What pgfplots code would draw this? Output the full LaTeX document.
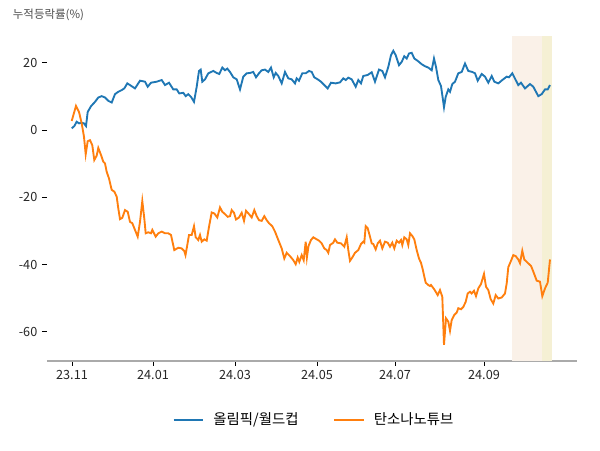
\documentclass[border=0pt]{standalone}
\usepackage{pgfplots}
\pgfplotsset{compat=1.18}
\usepackage{fontspec}
\setmainfont{Noto Sans CJK KR}
\definecolor{cblue}{HTML}{1F77B4}
\definecolor{corange}{HTML}{FF7F0E}
\definecolor{bandA}{RGB}{250,241,232}
\definecolor{bandB}{RGB}{245,240,212}
\begin{document}
\begin{tikzpicture}
\useasboundingbox (0,0) rectangle (450pt,337.5pt);
\begin{axis}[
  at={(35.25pt,66.75pt)}, anchor=south west,
  width=397.5pt, height=243.75pt, scale only axis,
  xmin=47, xmax=577, ymin=-68.7, ymax=28,
  axis x line*=bottom, axis y line*=left,
  x axis line style={draw={rgb,255:red,170;green,170;blue,170}, line width=0.8pt},
  y axis line style={draw=none},
  xtick={72,153,235,317,395,484},
  xticklabels={23.11,24.01,24.03,24.05,24.07,24.09},
  ytick={-60,-40,-20,0,20},
  tick align=outside, major tick length=3.75pt,
  tick style={black, line width=0.6pt},
  tick label style={font=\fontsize{9.5}{11}\selectfont, text=black!85},
  /pgf/number format/assume math mode=true,
  clip=false,
  legend columns=2,
  legend style={at={(0.5045,-0.1815)}, anchor=center, draw=none, fill=none,
    font=\fontsize{10.8}{13}\selectfont, column sep=5pt,
    /tikz/every even column/.append style={column sep=24pt}},
  legend image code/.code={\draw[#1, line width=1.5pt] (0pt,0pt) -- (22pt,0pt);},
  legend cell align=left,
]
\fill[bandA] (axis cs:512,-68.7) rectangle (axis cs:542,28);
\fill[bandB] (axis cs:542,-68.7) rectangle (axis cs:552,28);
\addplot[cblue, line width=1.4pt] coordinates {
(71.7,0.5)(74.3,1.2)(76.7,2.5)(79,2.0)(81.7,2.2)(84,2.0)(86,1.2)(87.7,5.4)(91,7.1)(95,8.4)
(98.3,9.7)(101.7,10.1)(105,9.7)(108.3,8.7)(111.7,8.2)(115,10.7)(118.3,11.4)(121.7,11.9)(124.3,12.4)(127.3,13.9)
(131,13.2)(135,12.4)(140,14.7)(145,14.4)(147.7,12.9)(151,14.1)(156.7,14.4)(161.7,14.9)(165,13.4)(169,14.1)
(173.3,12.1)(176.7,12.1)(179.3,10.9)(183.3,11.1)(185.7,10.1)(188.3,10.7)(191,9.9)(194,8.4)(196.7,12.9)(199,17.6)
(200.7,18.0)(202.3,14.4)(205,15.1)(208.3,16.9)(213.3,17.6)(216.7,17.0)(219.3,16.7)(222.3,18.6)(225,17.8)(227.3,18.3)
(230,17.3)(233.3,15.7)(236.7,15.1)(240,12.1)(243.3,15.9)(246.7,16.9)(250,17.0)(253.3,17.3)(256,15.7)(259,16.9)
(261.7,17.8)(265,18.0)(268.3,17.3)(271,18.6)(273.7,15.7)(275.7,17.0)(278.3,16.1)(281.7,13.9)(285,17.3)(288.3,15.4)
(291.7,15.1)(295,13.9)(296.7,15.4)(299,14.7)(302.3,16.9)(305.7,16.9)(309,17.6)(311.7,17.3)(314.3,15.7)(317.7,15.1)
(321,14.4)(324.3,13.4)(327.7,12.4)(331,14.1)(335.7,13.9)(340,14.2)(343.3,15.4)(345.7,14.9)(348.3,15.6)(351.7,15.1)
(355.7,12.9)(358.3,14.9)(361,13.9)(363.3,16.1)(367.7,16.4)(371.7,17.2)(375,14.4)(379,18.0)(382.3,17.6)(385,15.7)
(388.3,18.8)(391,22.3)(393.3,23.6)(395.7,22.3)(399,19.3)(401.7,20.3)(404.3,22.0)(406.7,21.3)(409,22.8)(411.7,23.0)
(414.3,21.3)(417.7,20.6)(421.7,19.6)(425,19.0)(428.3,18.6)(431.7,17.8)(434,21.3)(436,18.8)(438.3,14.9)(441,13.1)
(442.3,10.4)(444,6.8)(445.7,9.9)(448.3,12.1)(450,11.4)(452.3,13.7)(455,14.4)(458.3,16.9)(461.7,17.3)(465,19.8)
(468.3,17.6)(472.3,17.3)(475,16.9)(477.7,14.7)(481.7,16.7)(485,15.9)(488.3,14.1)(491.7,16.1)(494.3,14.4)(498.3,13.9)
(502.3,14.9)(506.7,15.9)(509,15.7)(512.3,16.9)(515.7,14.9)(518.3,13.4)(521,14.1)(525,12.4)(530,13.7)(533.3,12.9)
(538.3,10.1)(541.7,10.7)(545,12.1)(547.7,12.1)(550,13.4)
};
\addlegendentry{올림픽/월드컵}
\addplot[corange, line width=1.4pt] coordinates {
(71.7,2.7)(76,7.2)(79,5.4)(81.7,2.0)(84,-2.0)(85.7,-7.2)(87.7,-3.3)(90,-3.0)(92.3,-4.5)(94.3,-8.9)
(96.7,-7.6)(98.3,-5.3)(101,-7.4)(103.3,-9.4)(105,-9.9)(106.7,-12.4)(109,-14.4)(111.7,-17.8)(114.3,-18.3)(116.7,-19.8)
(118.3,-23.3)(120,-26.5)(122.3,-26.1)(125,-23.8)(127.7,-24.3)(130,-27.3)(132.3,-27.7)(135,-29.7)(137.7,-31.7)(140,-27.3)
(142.3,-21.1)(144.3,-26.3)(145.7,-30.7)(148.3,-30.4)(151,-30.7)(152.3,-29.7)(155.7,-31.7)(158.3,-30.7)(161.7,-30.2)(165,-30.7)
(168.3,-30.7)(171,-31.2)(174.3,-35.7)(178.3,-35.0)(181.7,-35.2)(184.3,-36.0)(185.5,-37.2)(187,-34.7)(189,-31.2)(191.7,-31.2)
(194,-28.6)(195.7,-31.9)(198.3,-32.7)(200,-31.2)(201.7,-33.2)(204.3,-32.5)(206.7,-32.9)(209,-28.8)(211.7,-24.5)(214.3,-24.8)
(217.3,-26.0)(220,-23.0)(222.3,-24.3)(225,-25.0)(227.7,-25.8)(230,-25.6)(231.7,-23.8)(234,-24.6)(236,-26.6)(239,-26.0)
(241.7,-24.6)(244,-27.0)(246,-24.0)(249,-25.0)(251.7,-26.0)(254.3,-23.8)(256.7,-25.6)(259,-26.8)(261.7,-27.0)(264.3,-25.6)
(266.7,-26.8)(269,-27.7)(272.3,-28.6)(275,-30.2)(278.3,-32.7)(281.7,-35.2)(284.3,-38.2)(286.7,-36.5)(290,-37.5)(293.3,-38.7)
(295.7,-39.9)(297.7,-37.9)(299.3,-39.2)(301.7,-37.2)(303.7,-38.7)(305.7,-33.2)(306.9,-37.9)(308.5,-34.5)(311,-32.7)(313.3,-31.9)
(316.7,-32.5)(319,-32.9)(321.7,-33.7)(324.3,-35.2)(326.7,-35.7)(328.3,-36.5)(330,-34.2)(333.3,-33.5)(335,-32.5)(337.3,-33.5)
(341,-33.7)(344.3,-34.7)(346.7,-31.9)(348.3,-35.7)(350,-38.9)(352.3,-37.9)(355,-36.5)(358.3,-35.7)(361,-33.9)(363.3,-33.2)
(364.3,-33.5)(365.7,-28.6)(367.7,-29.2)(370,-31.7)(371.7,-33.7)(373.3,-33.9)(375.7,-35.5)(377.7,-33.7)(380,-32.9)(382.3,-35.2)
(385,-33.2)(387.7,-33.5)(390,-34.7)(392.3,-33.5)(394.3,-35.2)(396.7,-32.9)(399,-33.5)(401,-32.7)(402.3,-34.2)(404.3,-31.9)
(406.7,-32.5)(408.3,-34.2)(410,-30.7)(412.3,-31.5)(414.3,-32.5)(416.7,-35.7)(419,-38.2)(421,-39.5)(422.7,-41.4)(424.3,-43.6)
(425.7,-45.4)(428.3,-46.1)(430,-46.4)(431,-46.1)(434.3,-47.4)(437.7,-49.1)(440,-47.6)(442.3,-49.6)(444,-63.9)(446,-56.0)
(448.3,-57.0)(450,-59.7)(451.7,-56.5)(454.3,-55.0)(456.7,-54.3)(458.3,-53.0)(461,-53.3)(463.3,-52.6)(465.7,-51.1)(467.7,-48.6)
(470,-48.1)(471.7,-48.6)(474,-47.8)(476,-49.4)(478.3,-47.1)(481,-45.8)(484,-42.8)(486,-46.6)(488.3,-47.6)(490.7,-50.3)
(493.3,-51.6)(495.7,-49.1)(498.3,-50.1)(501.7,-49.8)(505,-48.6)(506.7,-45.6)(508.3,-40.8)(511,-38.9)(513.3,-37.2)(515.7,-37.5)
(518.3,-38.5)(520,-39.6)(522.3,-35.9)(524.3,-38.5)(527.7,-39.5)(531,-40.4)(533.3,-42.1)(536.7,-44.8)(540,-45.1)(542.3,-49.4)
(545,-47.1)(547.7,-45.4)(550,-38.5)
};
\addlegendentry{탄소나노튜브}
\end{axis}
\node[anchor=west, font=\fontsize{8.6}{10}\selectfont, text=black!70, inner sep=0pt] at (9.5pt,326.5pt) {누적등락률(\%)};
\end{tikzpicture}
\end{document}
